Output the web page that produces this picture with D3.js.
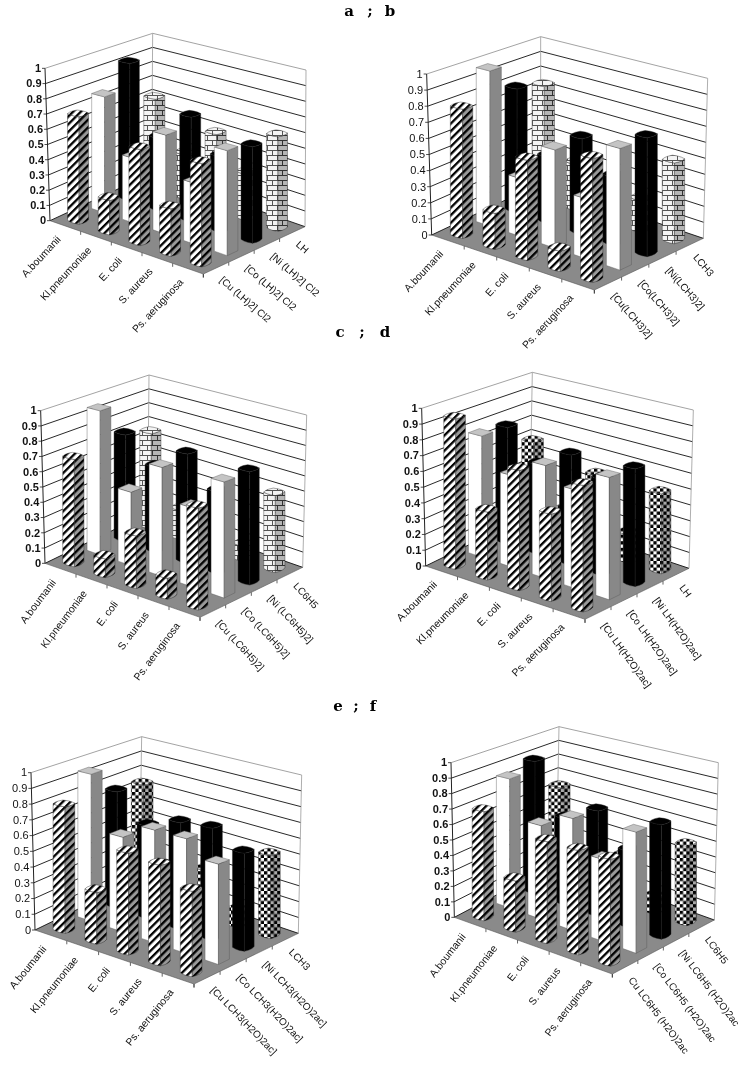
<!DOCTYPE html>
<html lang="en">
<head>
<meta charset="utf-8">
<script src="https://cdn.jsdelivr.net/npm/d3@7"></script>
<style>
  html, body { margin: 0; padding: 0; background: #fff; }
  svg { display: block; filter: blur(0.4px); }
  .tick-text { font-family: "Liberation Sans", sans-serif; font-size: 11px; fill: #111; }
  .cat-text { font-family: "Liberation Sans", sans-serif; font-size: 10.4px; fill: #111; }
  .ser-text { font-family: "Liberation Sans", sans-serif; font-size: 10px; fill: #111; }
  .head { font-family: "DejaVu Serif", serif; font-size: 15px; font-weight: bold; fill: #000; }
</style>
</head>
<body>
<script>
const categories = ["A.boumanii", "Kl.pneumoniae", "E. coli", "S. aureus", "Ps. aeruginosa"];
const yTicks = [0, 0.1, 0.2, 0.3, 0.4, 0.5, 0.6, 0.7, 0.8, 0.9, 1];

// series run Cu, Co, Ni, free ligand
const seriesA = ["[Cu (LH)2] Cl2", "[Co (LH)2] Cl2", "[Ni (LH)2] Cl2", "LH"];
const seriesB = ["[Cu(LCH3)2]", "[Co(LCH3)2]", "[Ni(LCH3)2]", "LCH3"];
const seriesC = ["[Cu (LC6H5)2]", "[Co (LC6H5)2]", "[Ni (LC6H5)2]", "LC6H5"];
const seriesD = ["[Cu LH(H2O)2ac]", "[Co LH(H2O)2ac]", "[Ni LH(H2O)2ac]", "LH"];
const seriesE = ["[Cu LCH3(H2O)2ac]", "[Co LCH3(H2O)2ac]", "[Ni LCH3(H2O)2ac]", "LCH3"];
const seriesF = ["Cu LC6H5 (H2O)2ac", "[Co LC6H5 (H2O)2ac", "[Ni LC6H5 (H2O)2ac", "LC6H5"];

const valuesA = [[0.70, 0.22, 0.60, 0.29, 0.62], [0.77, 0.42, 0.63, 0.38, 0.64], [0.93, 0.48, 0.68, 0.48, 0.60], [0.62, 0.30, 0.50, 0.30, 0.60]];
const valuesB = [[0.80, 0.22, 0.60, 0.12, 0.72], [0.98, 0.36, 0.60, 0.36, 0.72], [0.80, 0.42, 0.60, 0.42, 0.72], [0.75, 0.30, 0.24, 0.20, 0.50]];
const valuesC = [[0.70, 0.12, 0.33, 0.13, 0.62], [0.96, 0.48, 0.70, 0.50, 0.72], [0.73, 0.57, 0.72, 0.53, 0.72], [0.67, 0.20, 0.20, 0.10, 0.50]];
const valuesD = [[0.95, 0.42, 0.73, 0.52, 0.74], [0.78, 0.58, 0.70, 0.60, 0.73], [0.77, 0.58, 0.70, 0.60, 0.72], [0.60, 0.20, 0.50, 0.18, 0.50]];
const valuesE = [[0.80, 0.32, 0.62, 0.60, 0.50], [0.95, 0.60, 0.70, 0.70, 0.60], [0.77, 0.60, 0.68, 0.70, 0.60], [0.75, 0.20, 0.30, 0.10, 0.52]];
const valuesF = [[0.70, 0.32, 0.62, 0.62, 0.62], [0.85, 0.60, 0.70, 0.50, 0.72], [0.90, 0.57, 0.68, 0.48, 0.70], [0.65, 0.15, 0.30, 0.10, 0.50]];

const panels = [
  { x0: 0, y0: 0, series: seriesA, values: valuesA, bold: true, catAngle: -47, serAngle: 41,
    L: [150, 662], Lt: [135, 205], Bt: [458, 100], R: [915, 680], Rt: [918, 210], F: [610, 822] },
  { x0: 375, y0: 0, series: seriesB, values: valuesB, bold: false, catAngle: -47, serAngle: 49,
    L: [170, 705], Lt: [155, 222], Bt: [497, 110], R: [985, 715], Rt: [998, 235], F: [658, 870] },
  { x0: 0, y0: 340, series: seriesC, values: valuesC, bold: true, catAngle: -53, serAngle: 47,
    L: [135, 670], Lt: [122, 212], Bt: [447, 105], R: [908, 682], Rt: [920, 225], F: [600, 832] },
  { x0: 375, y0: 340, series: seriesD, values: valuesD, bold: true, catAngle: -45, serAngle: 54,
    L: [152, 678], Lt: [140, 205], Bt: [472, 97], R: [942, 685], Rt: [955, 210], F: [630, 838] },
  { x0: 0, y0: 700, series: seriesE, values: valuesE, bold: false, catAngle: -51, serAngle: 46,
    L: [105, 690], Lt: [93, 218], Bt: [425, 110], R: [895, 700], Rt: [905, 225], F: [582, 852] },
  { x0: 375, y0: 700, series: seriesF, values: valuesF, bold: true, catAngle: -52, serAngle: 53,
    L: [238, 652], Lt: [228, 188], Bt: [552, 80], R: [1018, 660], Rt: [1030, 188], F: [712, 822] }
];

const w = 749, h = 1071;
const svg = d3.select("body").append("svg").attr("width", w).attr("height", h);
const defs = svg.append("defs");

function hatch(id, bg) {
  const p = defs.append("pattern").attr("id", id).attr("patternUnits", "userSpaceOnUse")
    .attr("width", 5.4).attr("height", 5.4).attr("patternTransform", "rotate(45)");
  p.append("rect").attr("width", 5.4).attr("height", 5.4).attr("fill", bg);
  p.append("rect").attr("width", 2.3).attr("height", 5.4).attr("fill", "#000");
}
function brick(id, bg, ln) {
  const p = defs.append("pattern").attr("id", id).attr("patternUnits", "userSpaceOnUse")
    .attr("width", 10).attr("height", 10);
  p.append("rect").attr("width", 10).attr("height", 10).attr("fill", bg);
  p.append("path").attr("d", "M0 0.5H10M0 5.5H10M2.5 0V5M7.5 5V10").attr("stroke", ln).attr("stroke-width", 1).attr("fill", "none");
}
function checker(id, bg, fg) {
  const p = defs.append("pattern").attr("id", id).attr("patternUnits", "userSpaceOnUse")
    .attr("width", 6.6).attr("height", 6.6);
  p.append("rect").attr("width", 6.6).attr("height", 6.6).attr("fill", bg);
  p.append("rect").attr("width", 3.3).attr("height", 3.3).attr("fill", fg);
  p.append("rect").attr("x", 3.3).attr("y", 3.3).attr("width", 3.3).attr("height", 3.3).attr("fill", fg);
}
hatch("hatchL", "#fff");
hatch("hatchR", "#999");
brick("brickL", "#f4f4f4", "#555");
brick("brickR", "#b5b5b5", "#333");
checker("checkL", "#fff", "#000");
checker("checkR", "#aaa", "#000");

const squareFoot = [[1, -1], [1, 1], [-1, 1], [-1, -1]];
const roundFoot = d3.range(12).map((i) => {
  const a = (-45 + i * 30) * Math.PI / 180;
  const c = Math.cos(a), s = Math.sin(a);
  const r = 1.06 * Math.pow(Math.pow(Math.abs(c), 4) + Math.pow(Math.abs(s), 4), -1 / 4);
  return [r * c, r * s];
});

const line = d3.line();

function drawPanel(p, usesChecks) {
  const px = (c) => [p.x0 + c[0] / 3, p.y0 + c[1] / 3];
  const L = px(p.L), R = px(p.R), F = px(p.F), Lt = px(p.Lt), Rt = px(p.Rt), Bt = px(p.Bt);
  const B = [L[0] + R[0] - F[0], L[1] + R[1] - F[1]];
  const Ft = [Lt[0] + Rt[0] - Bt[0], Lt[1] + Rt[1] - Bt[1]];

  const uScale = d3.scaleBand().domain(categories).range([0, 1]).paddingInner(0.58).paddingOuter(0.29);
  const vScale = d3.scaleBand().domain(p.series).range([0, 1]).paddingInner(0.58).paddingOuter(0.29);
  const zScale = d3.scaleLinear().domain([0, 1]).range([0, 1]);

  const project = (u, v, z) => {
    const mix = (a, b, c, d, k) => (1 - u) * (1 - v) * a[k] + u * (1 - v) * b[k] + u * v * c[k] + (1 - u) * v * d[k];
    const bx = mix(L, F, R, B, 0), by = mix(L, F, R, B, 1);
    const tx = mix(Lt, Ft, Rt, Bt, 0), ty = mix(Lt, Ft, Rt, Bt, 1);
    return [bx + (tx - bx) * zScale(z), by + (ty - by) * zScale(z)];
  };
  // columns stand upright in the picture, only the walls lean
  const projectBar = (u, v, z) => [project(u, v, 0)[0], project(u, v, z)[1]];

  const g = svg.append("g");

  // walls and floor
  g.append("path").attr("d", line([project(0, 0, 0), project(1, 0, 0), project(1, 1, 0), project(0, 1, 0)]) + "Z")
    .attr("fill", "#8a8a8a");
  yTicks.forEach((t) => {
    g.append("path")
      .attr("d", line([project(0, 0, t), project(0, 1, t), project(1, 1, t)]))
      .attr("fill", "none")
      .attr("stroke", t === 1 ? "#999" : "#111")
      .attr("stroke-width", 0.9);
  });
  g.append("path").attr("d", line([project(0, 1, 0), project(0, 1, 1)])).attr("stroke", "#999").attr("stroke-width", 0.8);
  g.append("path").attr("d", line([project(1, 1, 0), project(1, 1, 1)])).attr("stroke", "#999").attr("stroke-width", 0.8);
  g.append("path").attr("d", line([project(0, 0, 0), project(0, 0, 1)])).attr("stroke", "#222").attr("stroke-width", 1);

  // left axis
  yTicks.forEach((t) => {
    const a = project(0, 0, t);
    g.append("path").attr("d", line([a, [a[0] - 3, a[1]]])).attr("stroke", "#222").attr("stroke-width", 0.8);
    g.append("text").attr("class", "tick-text")
      .attr("x", a[0] - 4).attr("y", a[1] + 3.8)
      .attr("text-anchor", "end")
      .attr("font-weight", p.bold ? "bold" : "normal")
      .text(t);
  });

  // floor edge ticks
  d3.range(1, categories.length + 1).forEach((i) => {
    const a = project(i / categories.length, 0, 0);
    g.append("path").attr("d", line([a, [a[0], a[1] + 3.5]])).attr("stroke", "#222").attr("stroke-width", 0.7);
  });
  d3.range(0, p.series.length).forEach((i) => {
    const a = project(1, i / p.series.length, 0);
    g.append("path").attr("d", line([a, [a[0], a[1] + 3.5]])).attr("stroke", "#222").attr("stroke-width", 0.7);
  });
  g.append("path").attr("d", line([project(0, 0, 0), project(1, 0, 0), project(1, 1, 0)])).attr("fill", "none").attr("stroke", "#555").attr("stroke-width", 0.6);

  // one fill set per series, last one is the ligand (brick or checks)
  const lastSet = usesChecks ? ["url(#checkL)", "url(#checkR)", "url(#checkL)"] : ["url(#brickL)", "url(#brickR)", "url(#brickL)"];
  const fills = [
    { foot: roundFoot, left: "url(#hatchL)", right: "url(#hatchR)", top: "url(#hatchL)" },
    { foot: squareFoot, left: "#fff", right: "#888", top: "#c4c4c4" },
    { foot: roundFoot, left: "#000", right: "#000", top: "#000" },
    { foot: roundFoot, left: lastSet[0], right: lastSet[1], top: lastSet[2] }
  ];

  // back to front: furthest series first, then along the categories
  const bars = [];
  for (let s = p.series.length - 1; s >= 0; s--) {
    categories.forEach((c, i) => bars.push({ s: s, c: c, value: p.values[s][i] }));
  }

  const hu = uScale.bandwidth() / 2, hv = vScale.bandwidth() / 2;
  g.selectAll("g.bar").data(bars).enter().append("g").attr("class", "bar").each(function (d) {
    const st = fills[d.s];
    const cu = uScale(d.c) + hu, cv = vScale(p.series[d.s]) + hv;
    const foot = st.foot.map((q) => [cu + q[0] * hu, cv + q[1] * hv]);
    const low = foot.map((q) => projectBar(q[0], q[1], 0));
    const up = foot.map((q) => projectBar(q[0], q[1], d.value));
    const n = foot.length;
    const half = n / 2;
    // footprint starts at the corner nearest the viewer and goes round to the right
    const rightIdx = d3.range(0, half / 2 + 1);
    const leftIdx = d3.range(0, half / 2 + 1).map((i) => (n - i) % n);
    const face = (idx) => line(idx.map((i) => low[i]).concat(idx.slice().reverse().map((i) => up[i]))) + "Z";
    const bar = d3.select(this);
    const edge = d.s === 1 ? "#555" : "#222";
    bar.append("path").attr("d", face(leftIdx)).attr("fill", st.left).attr("stroke", edge).attr("stroke-width", 0.4);
    bar.append("path").attr("d", face(rightIdx)).attr("fill", st.right).attr("stroke", edge).attr("stroke-width", 0.4);
    bar.append("path").attr("d", line(up) + "Z").attr("fill", st.top).attr("stroke", edge).attr("stroke-width", 0.4);
  });

  // category labels along the front-left edge
  categories.forEach((c) => {
    const a = project(uScale(c) + hu, 0, 0);
    const x = a[0] - 4, y = a[1] + 14;
    g.append("text").attr("class", "cat-text")
      .attr("transform", "translate(" + x + "," + y + ") rotate(" + p.catAngle + ")")
      .attr("text-anchor", "end").text(c);
  });
  // series labels along the front-right edge
  p.series.forEach((c) => {
    const a = project(1, vScale(c) + hv, 0);
    const x = a[0] + 3, y = a[1] + 13;
    g.append("text").attr("class", "ser-text")
      .attr("transform", "translate(" + x + "," + y + ") rotate(" + p.serAngle + ")")
      .attr("text-anchor", "start").text(c);
  });
}

panels.forEach((p, i) => drawPanel(p, i >= 3));

// panel letters between the rows
const headers = [[349, 16, "a"], [370, 16, ";"], [390, 16, "b"], [340, 337, "c"], [362, 337, ";"], [385, 337, "d"], [338, 711, "e"], [356, 711, ";"], [373, 711, "f"]];
svg.selectAll("text.head").data(headers).enter().append("text").attr("class", "head")
  .attr("x", (d) => d[0]).attr("y", (d) => d[1]).attr("text-anchor", "middle").text((d) => d[2]);
</script>
</body>
</html>
